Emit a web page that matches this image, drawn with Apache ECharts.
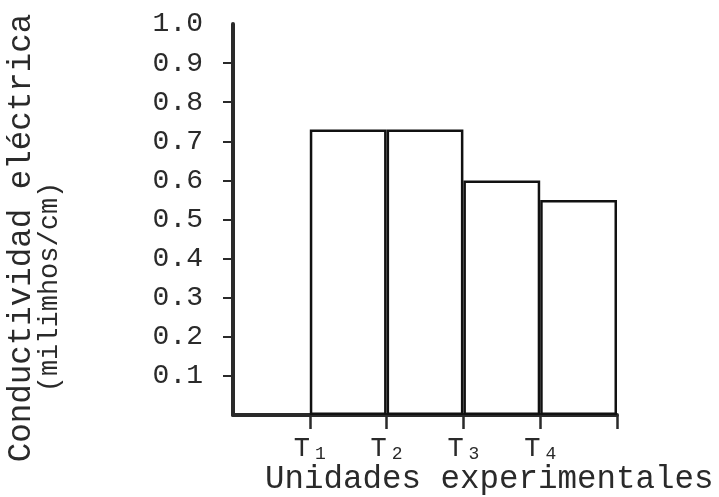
<!DOCTYPE html>
<html>
<head>
<meta charset="utf-8">
<script src="https://cdn.jsdelivr.net/npm/echarts@6/dist/echarts.min.js"></script>
<style>html,body{margin:0;padding:0;background:#fff}#c{width:719px;height:497px}</style>
</head>
<body>
<div id="c"></div>
<script>
// ---- data ----
const categories = ['T1', 'T2', 'T3', 'T4'];
const values = [0.73, 0.73, 0.60, 0.55];
const yTickValues = [0.1, 0.2, 0.3, 0.4, 0.5, 0.6, 0.7, 0.8, 0.9];
const yLabelValues = [0.1, 0.2, 0.3, 0.4, 0.5, 0.6, 0.7, 0.8, 0.9, 1.0];
const yLabelTexts = ['0.1', '0.2', '0.3', '0.4', '0.5', '0.6', '0.7', '0.8', '0.9', '1.0'];
const yTitle1 = 'Conductividad eléctrica';
const yTitle2 = '(milimhos/cm)';
const xTitle = 'Unidades experimentales';

const FONT = "'Courier New', 'Liberation Mono', monospace";
const INK = '#2a2a2a';

const barCats = [''].concat(categories);
const barData = [null].concat(values);
const labelCats = [''].concat(categories, ['']);

const chart = echarts.init(document.getElementById('c'));
chart.setOption({
  backgroundColor: '#fff',
  animation: false,
  grid: { left: 233, right: 102, top: 24, bottom: 82, containLabel: false },
  xAxis: [
    {
      type: 'category', data: barCats, boundaryGap: true, position: 'bottom',
      axisLine: { show: true, lineStyle: { color: INK, width: 4 } },
      axisTick: { show: false }, axisLabel: { show: false }, splitLine: { show: false }
    },
    {
      type: 'category', data: labelCats, boundaryGap: false, position: 'bottom',
      axisLine: { show: false },
      axisTick: { show: true, length: 14, interval: function (i) { return i > 0; }, lineStyle: { color: INK, width: 2.5 } },
      axisLabel: {
        show: true, margin: 20, interval: 0,
        formatter: function (v) { return v ? '{t|' + v.charAt(0) + '}{s|' + v.slice(1) + '}' : ''; },
        rich: {
          t: { fontFamily: FONT, fontSize: 27, color: INK, padding: [0, 5, 0, 0] },
          s: { fontFamily: FONT, fontSize: 18, color: INK, padding: [10, 0, 0, 0] }
        }
      },
      splitLine: { show: false }
    }
  ],
  yAxis: {
    type: 'value', min: 0, max: 1, interval: 0.1,
    axisLine: { show: true, lineStyle: { color: INK, width: 4 } },
    axisTick: { show: true, length: 10, customValues: yTickValues, lineStyle: { color: INK, width: 2 } },
    axisLabel: {
      show: true, margin: 30, customValues: yLabelValues,
      fontFamily: FONT, fontSize: 28, color: INK,
      formatter: function (v) {
        const i = yLabelValues.findIndex(function (x) { return Math.abs(x - v) < 1e-6; });
        return i >= 0 ? yLabelTexts[i] : '';
      }
    },
    splitLine: { show: false }
  },
  series: [{
    type: 'bar', xAxisIndex: 0, data: barData,
    barWidth: '100%', barCategoryGap: '0%',
    itemStyle: { color: '#fff', borderColor: '#111', borderWidth: 2.5 }
  }],
  graphic: [
    { type: 'text', x: 21, y: 238, rotation: Math.PI / 2,
      style: { text: yTitle1, font: '32.5px ' + FONT, fill: INK, textAlign: 'center', textVerticalAlign: 'middle' } },
    { type: 'text', x: 50, y: 287, rotation: Math.PI / 2,
      style: { text: yTitle2, font: '27px ' + FONT, fill: INK, textAlign: 'center', textVerticalAlign: 'middle' } },
    { type: 'text', x: 265, y: 479,
      style: { text: xTitle, font: '32.5px ' + FONT, fill: INK, textAlign: 'left', textVerticalAlign: 'middle' } }
  ]
});
</script>
</body>
</html>
